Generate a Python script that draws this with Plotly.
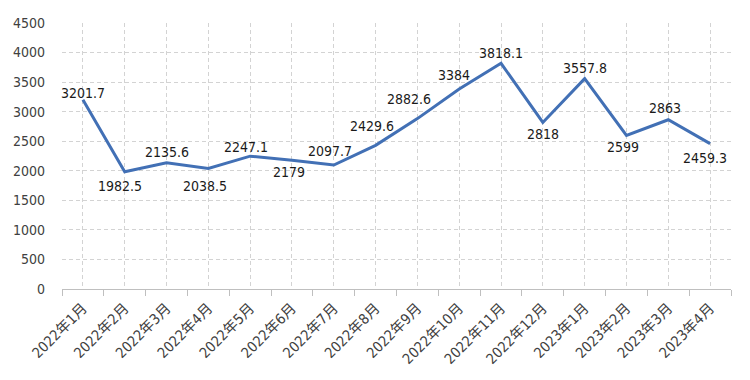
import plotly.graph_objects as go

months = ["2022年1月", "2022年2月", "2022年3月", "2022年4月", "2022年5月", "2022年6月",
          "2022年7月", "2022年8月", "2022年9月", "2022年10月", "2022年11月", "2022年12月",
          "2023年1月", "2023年2月", "2023年3月", "2023年4月"]
values = [3201.7, 1982.5, 2135.6, 2038.5, 2247.1, 2179, 2097.7, 2429.6, 2882.6, 3384,
          3818.1, 2818, 3557.8, 2599, 2863, 2459.3]
y_ticks = [0, 500, 1000, 1500, 2000, 2500, 3000, 3500, 4000, 4500]

# label offsets in pixels (style only): horizontal, vertical (positive = up)
label_dx = [0, -5, 0, -3, -4, -3, -4, -4, -8, -5, 0, 0, 0, -3, -3, -5]
label_dy = [7, -14, 11, -17, 9, -12, 14, 19, 20, 14, 10, -12, 11, -12, 12, -14]

font_family = "DejaVu Sans Condensed, Noto Sans CJK SC, sans-serif"
grid_col = "#D3D3D3"

fig = go.Figure()
fig.add_trace(go.Scatter(
    x=months, y=values, mode="lines",
    line=dict(color="#4270B5", width=3),
    showlegend=False,
))
# invisible trace to carry boundary tick marks
fig.add_trace(go.Scatter(
    x=months, y=values, xaxis="x2", mode="lines",
    line=dict(width=0), opacity=0, showlegend=False, hoverinfo="skip",
))

for m, v, dx, dy in zip(months, values, label_dx, label_dy):
    fig.add_annotation(
        x=m, y=v, text=f"{v:g}", showarrow=False,
        xshift=dx, yshift=dy,
        xanchor="center", yanchor="middle",
        font=dict(size=14, color="#1a1a1a", family=font_family),
    )

fig.update_layout(
    width=750, height=380,
    margin=dict(l=54, r=27, t=15, b=99, autoexpand=False),
    plot_bgcolor="white", paper_bgcolor="white",
    font=dict(family=font_family, color="#404040"),
    xaxis=dict(
        type="category", categoryorder="array", categoryarray=months,
        showgrid=True, gridcolor=grid_col, griddash="4px,3px", gridwidth=1,
        ticks="", tickangle=-45, tickfont=dict(size=14.5, color="#404040"),
        showline=True, linecolor="#BFBFBF", linewidth=1,
        range=[-0.5, len(months) - 0.5], ticklabelstandoff=4, automargin=False,
    ),
    xaxis2=dict(
        type="category", categoryorder="array", categoryarray=months,
        overlaying="x", anchor="y", tickson="boundaries", ticks="outside",
        ticklen=6, tickcolor="#BFBFBF", showticklabels=False, showgrid=False,
        range=[-0.5, len(months) - 0.5], side="bottom",
    ),
    yaxis=dict(
        range=[0, 4500], tickvals=y_ticks,
        showgrid=True, gridcolor=grid_col, griddash="4px,3px", gridwidth=1,
        tickfont=dict(size=14, color="#404040"), zeroline=False,
        ticks="", ticklabelstandoff=16, automargin=False,
    ),
)

fig.write_html("out.html")
